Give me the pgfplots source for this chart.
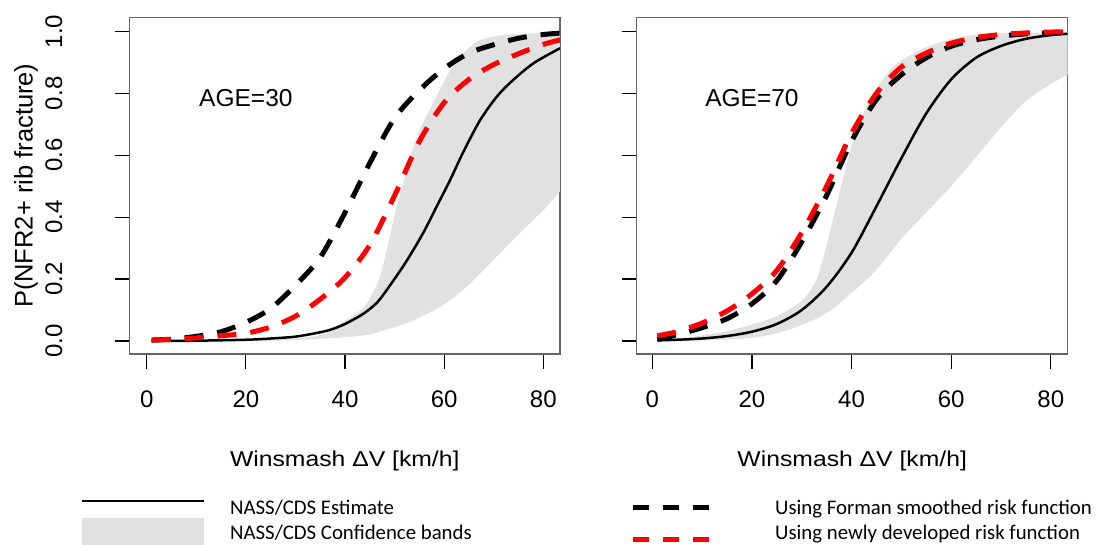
\documentclass[border=0pt]{standalone}
\usepackage{pgfplots}
\pgfplotsset{compat=1.18}
\usepgfplotslibrary{fillbetween}
\usepackage{pgfplotstable}
\usepackage{fontspec}
\setmainfont{Liberation Sans}
\newfontfamily\legendfont{Carlito}
\definecolor{bandgray}{RGB}{225,225,225}

% ---------- AGE = 30 ----------
% dv: Winsmash delta-V; est: NASS/CDS estimate
\pgfplotstableread{
dv   est
1    0.000
10   0.001
20   0.004
25   0.008
30   0.014
34   0.025
37   0.036
40   0.055
43.7 0.088
46.5 0.125
49   0.178
52.4 0.258
55.8 0.350
58.5 0.435
61.2 0.520
63.9 0.612
67.2 0.712
70.6 0.789
73.9 0.843
78   0.897
82.7 0.940
84   0.950
}\estA
% forman: Forman smoothed; new: newly developed
\pgfplotstableread{
dv   forman  new
1    0.003   0.003
5    0.006   0.005
10   0.015   0.010
15   0.030   0.017
20   0.060   0.025
25   0.105   0.045
30   0.180   0.080
35   0.270   0.135
40   0.415   0.205
45   0.575   0.310
50   0.720   0.470
55   0.810   0.645
60   0.880   0.770
65   0.930   0.845
70   0.957   0.893
75   0.978   0.928
80   0.990   0.958
84   0.995   0.975
}\curvesA
\pgfplotstableread{
dv   p
1    0.000
10   0.001
20   0.003
25   0.005
30   0.008
33.6 0.014
37   0.030
40   0.065
42.4 0.090
44.4 0.122
47   0.205
49   0.335
50.5 0.440
52   0.525
53   0.585
55   0.680
58   0.775
60.5 0.854
63   0.915
67   0.970
72.5 0.989
80   0.994
84   0.995
}\upperA
\pgfplotstableread{
dv   p
1    0.000
20   0.000
30   0.003
40   0.012
45   0.022
50   0.045
54   0.068
60   0.118
64.5 0.175
68.6 0.240
72.6 0.305
76.6 0.369
80.7 0.434
84   0.495
}\lowerA

% ---------- AGE = 70 ----------
\pgfplotstableread{
dv   est
1    0.002
5    0.004
10   0.008
15   0.016
20   0.030
25   0.055
30   0.100
35   0.175
40   0.285
45   0.435
50   0.590
55   0.735
60   0.845
65   0.915
70   0.953
75   0.976
80   0.988
84   0.993
}\estB
\pgfplotstableread{
dv   forman  new
1    0.005   0.017
5    0.020   0.030
10   0.043   0.058
15   0.072   0.097
20   0.120   0.152
25   0.195   0.228
30   0.320   0.350
35   0.470   0.500
40   0.645   0.670
45   0.780   0.800
50   0.860   0.885
55   0.915   0.930
60   0.952   0.962
65   0.973   0.980
70   0.985   0.990
75   0.992   0.995
80   0.996   0.998
84   0.998   0.999
}\curvesB
\pgfplotstableread{
dv   p
1    0.003
5    0.008
10   0.018
15   0.032
20   0.053
25   0.080
30   0.130
33   0.200
35   0.310
37   0.440
40   0.630
42   0.720
44   0.790
48   0.880
52   0.925
56   0.955
60   0.975
65   0.990
70   0.995
84   0.996
}\upperB
\pgfplotstableread{
dv   p
1    0.000
10   0.002
15   0.005
20   0.010
25   0.025
30   0.052
35   0.090
40   0.155
45   0.230
50   0.330
55   0.415
60   0.500
65   0.595
70   0.690
75   0.775
80   0.830
84   0.865
}\lowerB

\pgfplotsset{
  riskpanel/.style={
    scale only axis, anchor=south west,
    height=336.5pt,
    ymin=-0.042, ymax=1.045,
    xtick={0,20,40,60,80},
    ytick={0,0.2,0.4,0.6,0.8,1},
    xtick pos=left, ytick pos=left,
    tick align=outside, major tick length=15pt,
    axis line style={black!60, line width=1.2pt},
    every tick/.style={black, line width=1.2pt},
    /pgf/number format/assume math mode=true,
    tick label style={font=\fontsize{24}{28}\selectfont},
    xticklabel style={anchor=center, yshift=-30pt},
    yticklabel={\raisebox{52.5pt}{\pgfmathprintnumber[fixed,fixed zerofill,precision=1]{\tick}}},
    yticklabel style={rotate=90, anchor=base},
    xlabel style={at={([yshift=-107pt]axis description cs:0.5,0)},
      anchor=center, font=\fontsize{21.5}{26}\selectfont},
    ylabel style={at={([xshift=-103.5pt]axis description cs:0,0.5)},
      rotate=0, anchor=center, font=\fontsize{25.5}{30}\selectfont},
    xlabel={\scalebox{1.15}[1]{Winsmash ΔV [km/h]}},
  },
  estline/.style={black, line width=2.5pt, smooth},
  formanline/.style={black, line width=5pt, smooth, dash pattern=on 19pt off 14pt},
  newline/.style={red, line width=5pt, smooth, dash pattern=on 19pt off 14pt},
}

\begin{document}
\begin{tikzpicture}
\path (0,0) rectangle (1104pt,545pt);

\begin{axis}[riskpanel, at={(129.5pt,191pt)}, width=430.5pt,
  xmin=-3.47, xmax=83.36,
  ylabel={P(NFR2+ rib fracture)}]
  \addplot[name path=upA, draw=none, smooth] table[x=dv, y=p] {\upperA};
  \addplot[name path=loA, draw=none, smooth] table[x=dv, y=p] {\lowerA};
  \addplot[bandgray, draw=none] fill between[of=upA and loA];
  \addplot[estline] table[x=dv, y=est] {\estA};
  \addplot[formanline] table[x=dv, y=forman] {\curvesA};
  \addplot[newline] table[x=dv, y=new] {\curvesA};
  \node[font=\fontsize{24.5}{28}\selectfont] at (axis cs:20,0.785) {AGE=30};
\end{axis}

\begin{axis}[riskpanel, at={(636.7pt,191pt)}, width=431pt,
  xmin=-3.13, xmax=83.4, yticklabels={}]
  \addplot[name path=upB, draw=none, smooth] table[x=dv, y=p] {\upperB};
  \addplot[name path=loB, draw=none, smooth] table[x=dv, y=p] {\lowerB};
  \addplot[bandgray, draw=none] fill between[of=upB and loB];
  \addplot[estline] table[x=dv, y=est] {\estB};
  \addplot[formanline] table[x=dv, y=forman] {\curvesB};
  \addplot[newline] table[x=dv, y=new] {\curvesB};
  \node[font=\fontsize{24.5}{28}\selectfont] at (axis cs:20,0.785) {AGE=70};
\end{axis}

% legend
\draw[black, line width=2.5pt] (82pt,44pt) -- (204pt,44pt);
\fill[bandgray] (82pt,0pt) rectangle (204pt,27pt);
\draw[black, line width=5pt, dash pattern=on 16pt off 14pt] (633pt,37pt) -- (709pt,37pt);
\draw[red, line width=5pt, dash pattern=on 16pt off 14pt] (633pt,5pt) -- (709pt,5pt);
\begin{scope}[every node/.style={anchor=base west, inner sep=0pt,
    font=\legendfont\fontsize{20.8}{24}\selectfont}]
  \node at (230pt,30pt) {NASS/CDS Estimate};
  \node at (230pt,5pt) {NASS/CDS Confidence bands};
  \node at (775pt,30pt) {Using Forman smoothed risk function};
  \node at (775pt,5pt) {Using newly developed risk function};
\end{scope}
\end{tikzpicture}
\end{document}
